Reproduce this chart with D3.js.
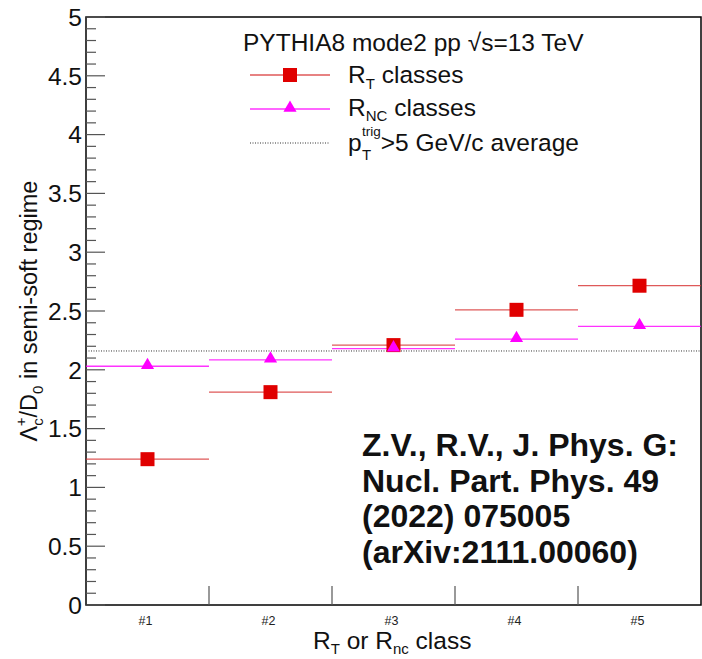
<!DOCTYPE html>
<html><head><meta charset="utf-8">
<script src="https://cdn.jsdelivr.net/npm/d3@7"></script>
<style>
body{margin:0;background:#fff;}
text{font-family:"Liberation Sans",Arial,sans-serif;}
</style></head>
<body><svg id="c" width="702" height="659"></svg>
<script>
const classes = ["#1","#2","#3","#4","#5"];
const rtValues = [1.24, 1.81, 2.21, 2.51, 2.715];
const rncValues = [2.03, 2.085, 2.18, 2.26, 2.37];
const avgValue = 2.16;
const yTicks = [0,0.5,1,1.5,2,2.5,3,3.5,4,4.5,5];

const svg = d3.select("#c");
const L=86, R=701, T=17, B=605;
const x = d3.scaleLinear().domain([0,5]).range([L,R]);
const y = d3.scaleLinear().domain([0,5]).range([B,T]);
const g = svg.append("g");
const FS = 24.5, SS = 15;

// frame
g.append("rect").attr("x",L).attr("y",T).attr("width",R-L).attr("height",B-T)
 .attr("fill","none").attr("stroke","#000").attr("stroke-width",1.5);

// y ticks
const minor = d3.range(0,5.0001,0.1);
minor.forEach(v=>{
  const major = Math.abs(v*2-Math.round(v*2))<1e-6;
  g.append("line").attr("x1",L).attr("x2",L+(major?19:10))
   .attr("y1",y(v)).attr("y2",y(v)).attr("stroke","#555").attr("stroke-width",1.2);
});
yTicks.forEach(v=>{
  g.append("text").attr("x",L-4).attr("y",y(v)).attr("dy","0.36em")
   .attr("text-anchor","end").attr("font-size",FS).attr("fill","#111").text(String(v));
});
// x ticks
for(let i=1;i<5;i++){
  g.append("line").attr("x1",x(i)).attr("x2",x(i)).attr("y1",B).attr("y2",B-19)
   .attr("stroke","#555").attr("stroke-width",1.2);
}
classes.forEach((c,i)=>{
  g.append("text").attr("x",x(i+0.5)-2).attr("y",625).attr("text-anchor","middle")
   .attr("font-size",12.5).attr("fill","#222").text(c);
});

// average line
g.append("line").attr("x1",L).attr("x2",R).attr("y1",y(avgValue)).attr("y2",y(avgValue))
 .attr("stroke","#333").attr("stroke-width",1).attr("stroke-dasharray","1,1.5");

const red="#e00000", mag="#ff00ff", redLine="#d83030";
const tri = d3.symbol().type(d3.symbolTriangle).size(75);
rncValues.forEach((v,i)=>{
  g.append("line").attr("x1",x(i)).attr("x2",x(i+1)).attr("y1",y(v)).attr("y2",y(v))
   .attr("stroke",mag).attr("stroke-width",1.3).attr("opacity",0.8);
});
rtValues.forEach((v,i)=>{
  g.append("line").attr("x1",x(i)).attr("x2",x(i+1)).attr("y1",y(v)).attr("y2",y(v))
   .attr("stroke",redLine).attr("stroke-width",1.3).attr("opacity",0.8);
});
rtValues.forEach((v,i)=>{
  g.append("rect").attr("x",x(i+0.5)-7).attr("y",y(v)-7).attr("width",14).attr("height",14).attr("fill",red);
});
rncValues.forEach((v,i)=>{
  g.append("path").attr("d",tri).attr("transform",`translate(${x(i+0.5)},${y(v)-1})`).attr("fill",mag);
});

// legend
g.append("text").attr("x",243).attr("y",51).attr("font-size",FS).attr("fill","#111")
 .text('PYTHIA8 mode2 pp \u221As=13 TeV');
const lx1=250,lx2=330,lm=290;
g.append("line").attr("x1",lx1).attr("x2",lx2).attr("y1",75).attr("y2",75).attr("stroke",redLine).attr("stroke-width",1.3).attr("opacity",0.8);
g.append("rect").attr("x",lm-7).attr("y",68).attr("width",14).attr("height",14).attr("fill",red);
g.append("line").attr("x1",lx1).attr("x2",lx2).attr("y1",109).attr("y2",109).attr("stroke",mag).attr("stroke-width",1.3).attr("opacity",0.8);
g.append("path").attr("d",tri).attr("transform",`translate(${lm},${108})`).attr("fill",mag);
g.append("line").attr("x1",lx1).attr("x2",lx2).attr("y1",143).attr("y2",143).attr("stroke","#333").attr("stroke-width",1).attr("stroke-dasharray","1,1.5");

const t1=g.append("text").attr("x",348).attr("y",83).attr("font-size",FS).attr("fill","#111");
t1.append("tspan").text("R");
t1.append("tspan").attr("font-size",SS).attr("dy",6).text("T");
t1.append("tspan").attr("dy",-6).text(" classes");
const t2=g.append("text").attr("x",348).attr("y",116).attr("font-size",FS).attr("fill","#111");
t2.append("tspan").text("R");
t2.append("tspan").attr("font-size",SS).attr("dy",5).text("NC");
t2.append("tspan").attr("dy",-5).text(" classes");
const t3=g.append("text").attr("x",348).attr("y",151).attr("font-size",FS).attr("fill","#111");
t3.append("tspan").text("p");
t3.append("tspan").attr("font-size",SS).attr("dy",9).attr("x",362).text("T");
t3.append("tspan").attr("font-size",13.5).attr("dy",-24).attr("x",362).text("trig");
t3.append("tspan").attr("dy",15).text(">5 GeV/c average");

// annotation
const ann=["Z.V., R.V., J. Phys. G:","Nucl. Part. Phys. 49","(2022) 075005","(arXiv:2111.00060)"];
ann.forEach((s,i)=>{
  g.append("text").attr("x",362).attr("y",456+i*35.7).attr("font-size",32).attr("font-weight","bold")
   .attr("fill","#111").text(s);
});

// x title
const xt=g.append("text").attr("x",313).attr("y",649).attr("font-size",FS).attr("fill","#111");
xt.append("tspan").text("R");
xt.append("tspan").attr("font-size",SS).attr("dy",5).text("T");
xt.append("tspan").attr("dy",-5).text(" or R");
xt.append("tspan").attr("font-size",SS).attr("dy",5).text("nc");
xt.append("tspan").attr("dy",-5).text(" class");

// y title
const yt=g.append("text").attr("transform","translate(37,311) rotate(-90)").attr("text-anchor","middle").attr("font-size",23.5).attr("fill","#111");
yt.append("tspan").text("\u039B");
yt.append("tspan").attr("font-size",SS).attr("dy",6).text("c");
yt.append("tspan").attr("font-size",SS).attr("dy",-17).attr("dx",-8).text("+");
yt.append("tspan").attr("dy",11).text("/D");
yt.append("tspan").attr("font-size",SS).attr("dy",6).text("0");
yt.append("tspan").attr("dy",-6).text(" in semi-soft regime");
</script></body></html>
